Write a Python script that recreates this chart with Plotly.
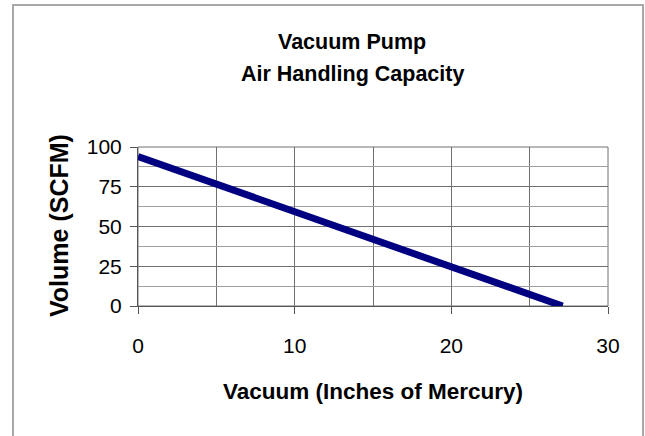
import plotly.graph_objects as go

# Data
vacuum_inhg = [0, 5, 10, 15, 20, 25, 27.1]
volume_scfm = [94, 76.7, 59.3, 42, 24.6, 7.3, 0]

x_ticks = [0, 10, 20, 30]
y_ticks = [0, 25, 50, 75, 100]

title_lines = ["Vacuum Pump", "Air Handling Capacity"]
x_title = "Vacuum (Inches of Mercury)"
y_title = "Volume (SCFM)"

W, H = 645, 436
L, R, T, B = 138, 37, 147, 130
pw, ph = W - L - R, H - T - B

def px_x(px):
    return (px - L) / pw

def px_y(py):
    return (H - B - py) / ph

FONT = "Liberation Sans, Arial, sans-serif"

fig = go.Figure()
fig.add_trace(go.Scatter(
    x=vacuum_inhg, y=volume_scfm, mode="lines",
    line=dict(color="#000080", width=7),
    showlegend=False, hoverinfo="skip",
))

fig.update_layout(
    width=W, height=H,
    margin=dict(l=L, r=R, t=T, b=B, pad=0),
    paper_bgcolor="white", plot_bgcolor="white",
    font=dict(family=FONT, color="#000000", size=21),
    showlegend=False,
)

fig.update_xaxes(
    range=[0, 30], tickvals=x_ticks, ticktext=[str(v) for v in x_ticks],
    showgrid=True, gridcolor="#707070", gridwidth=1,
    minor=dict(dtick=5, tick0=0, showgrid=True, gridcolor="#707070", gridwidth=1, ticks=""),
    ticks="outside", ticklen=7, tickcolor="#555555", tickwidth=1,
    showline=True, linecolor="#555555", linewidth=1, mirror=False,
    zeroline=False, ticklabelstandoff=14,
    tickfont=dict(size=21, family=FONT),
)
fig.update_yaxes(
    range=[0, 100], tickvals=y_ticks, ticktext=[str(v) for v in y_ticks],
    showgrid=True, gridcolor="#707070", gridwidth=1,
    minor=dict(dtick=12.5, tick0=0, showgrid=True, gridcolor="#a0a0a0", gridwidth=1, ticks=""),
    ticks="outside", ticklen=7, tickcolor="#555555", tickwidth=1,
    showline=True, linecolor="#555555", linewidth=1, mirror=False,
    zeroline=False, ticklabelstandoff=4,
    tickfont=dict(size=21, family=FONT),
)

# plot frame (top/right)
fig.add_shape(type="rect", xref="paper", yref="paper", x0=0, x1=1, y0=0, y1=1,
              line=dict(color="#707070", width=1), layer="below")

# outer chart border
fig.add_shape(type="rect", xref="paper", yref="paper",
              x0=px_x(13), x1=px_x(643), y0=px_y(445), y1=px_y(5),
              line=dict(color="#a8a8a8", width=2))

# title
fig.add_annotation(text="<b>" + title_lines[0] + "</b>", xref="paper", yref="paper",
                   x=px_x(352), y=px_y(42), showarrow=False, xanchor="center", yanchor="middle",
                   font=dict(size=21.5, family=FONT))
fig.add_annotation(text="<b>" + title_lines[1] + "</b>", xref="paper", yref="paper",
                   x=px_x(352), y=px_y(74), showarrow=False, xanchor="center", yanchor="middle",
                   font=dict(size=21.5, family=FONT))
# axis titles
fig.add_annotation(text="<b>" + x_title + "</b>", xref="paper", yref="paper",
                   x=px_x(373), y=px_y(391), showarrow=False, xanchor="center", yanchor="middle",
                   font=dict(size=22.5, family=FONT))
fig.add_annotation(text="<b>" + y_title + "</b>", xref="paper", yref="paper",
                   x=px_x(59), y=px_y(226), showarrow=False, xanchor="center", yanchor="middle",
                   textangle=-90, font=dict(size=25, family=FONT))

fig.write_html("out.html",
               config={"displayModeBar": False},
               post_script="document.body.style.margin='0';document.body.style.overflow='hidden';")
